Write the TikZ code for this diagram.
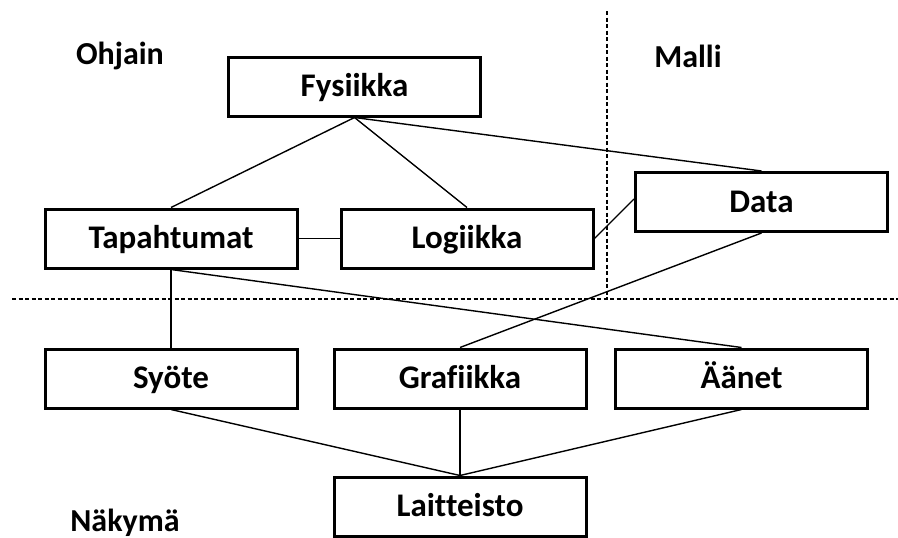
\documentclass[tikz,border=0pt]{standalone}
\usepackage{fontspec}
\setmainfont{Carlito}[Ligatures=NoCommon]
\begin{document}
\begin{tikzpicture}[x=1pt,y=-1pt,
  box/.style={draw, line width=3pt, minimum width=252pt, minimum height=59pt,
    inner sep=0pt, text height=24pt, text depth=4pt,
    font=\fontsize{33}{38}\selectfont\bfseries},
  area/.style={font=\fontsize{32}{38}\selectfont\bfseries},
  link/.style={line width=1.4pt},
  divider/.style={line width=1.5pt, dash pattern=on 4pt off 2.5pt}]
\useasboundingbox (0,0) rectangle (898,538);
% layer dividers
\coordinate (vtop) at (607,11);
\coordinate (vbot) at (607,299);
\coordinate (hl) at (12,299);
\coordinate (hr) at (898,299);
\draw[divider] (vtop) -- (vbot);
\draw[divider] (hl) -- (hr);
% area titles
\node[area] (ohjain) at (120,56) {Ohjain};
\node[area] (malli) at (688,56) {Malli};
\node[area] (nakyma) at (125,523) {Näkymä};
% components
\node[box] (fys) at (354.5,86.5) {Fysiikka};
\node[box] (tap) at (171,238.5) {Tapahtumat};
\node[box] (log) at (467,238.5) {Logiikka};
\node[box] (dat) at (761.5,202) {Data};
\node[box] (syo) at (171,378.5) {Syöte};
\node[box] (gra) at (460,378.5) {Grafiikka};
\node[box] (aan) at (741.5,378.5) {Äänet};
\node[box] (lai) at (460,506.5) {Laitteisto};
% connectors
\draw[link] (fys.south) -- (tap.north);
\draw[link] (fys.south) -- (log.north);
\draw[link] (fys.south) -- (dat.north);
\draw[link] (tap.east) -- (log.east -| log.west);
\draw[link] (log.east) -- ([yshift=3pt]dat.west);
\draw[link] (tap.south) -- (syo.north);
\draw[link] (tap.south) -- (aan.north);
\draw[link] (dat.south) -- (gra.north);
\draw[link] (syo.south) -- (lai.north);
\draw[link] (gra.south) -- (lai.north);
\draw[link] (aan.south) -- (lai.north);
\end{tikzpicture}
\end{document}
